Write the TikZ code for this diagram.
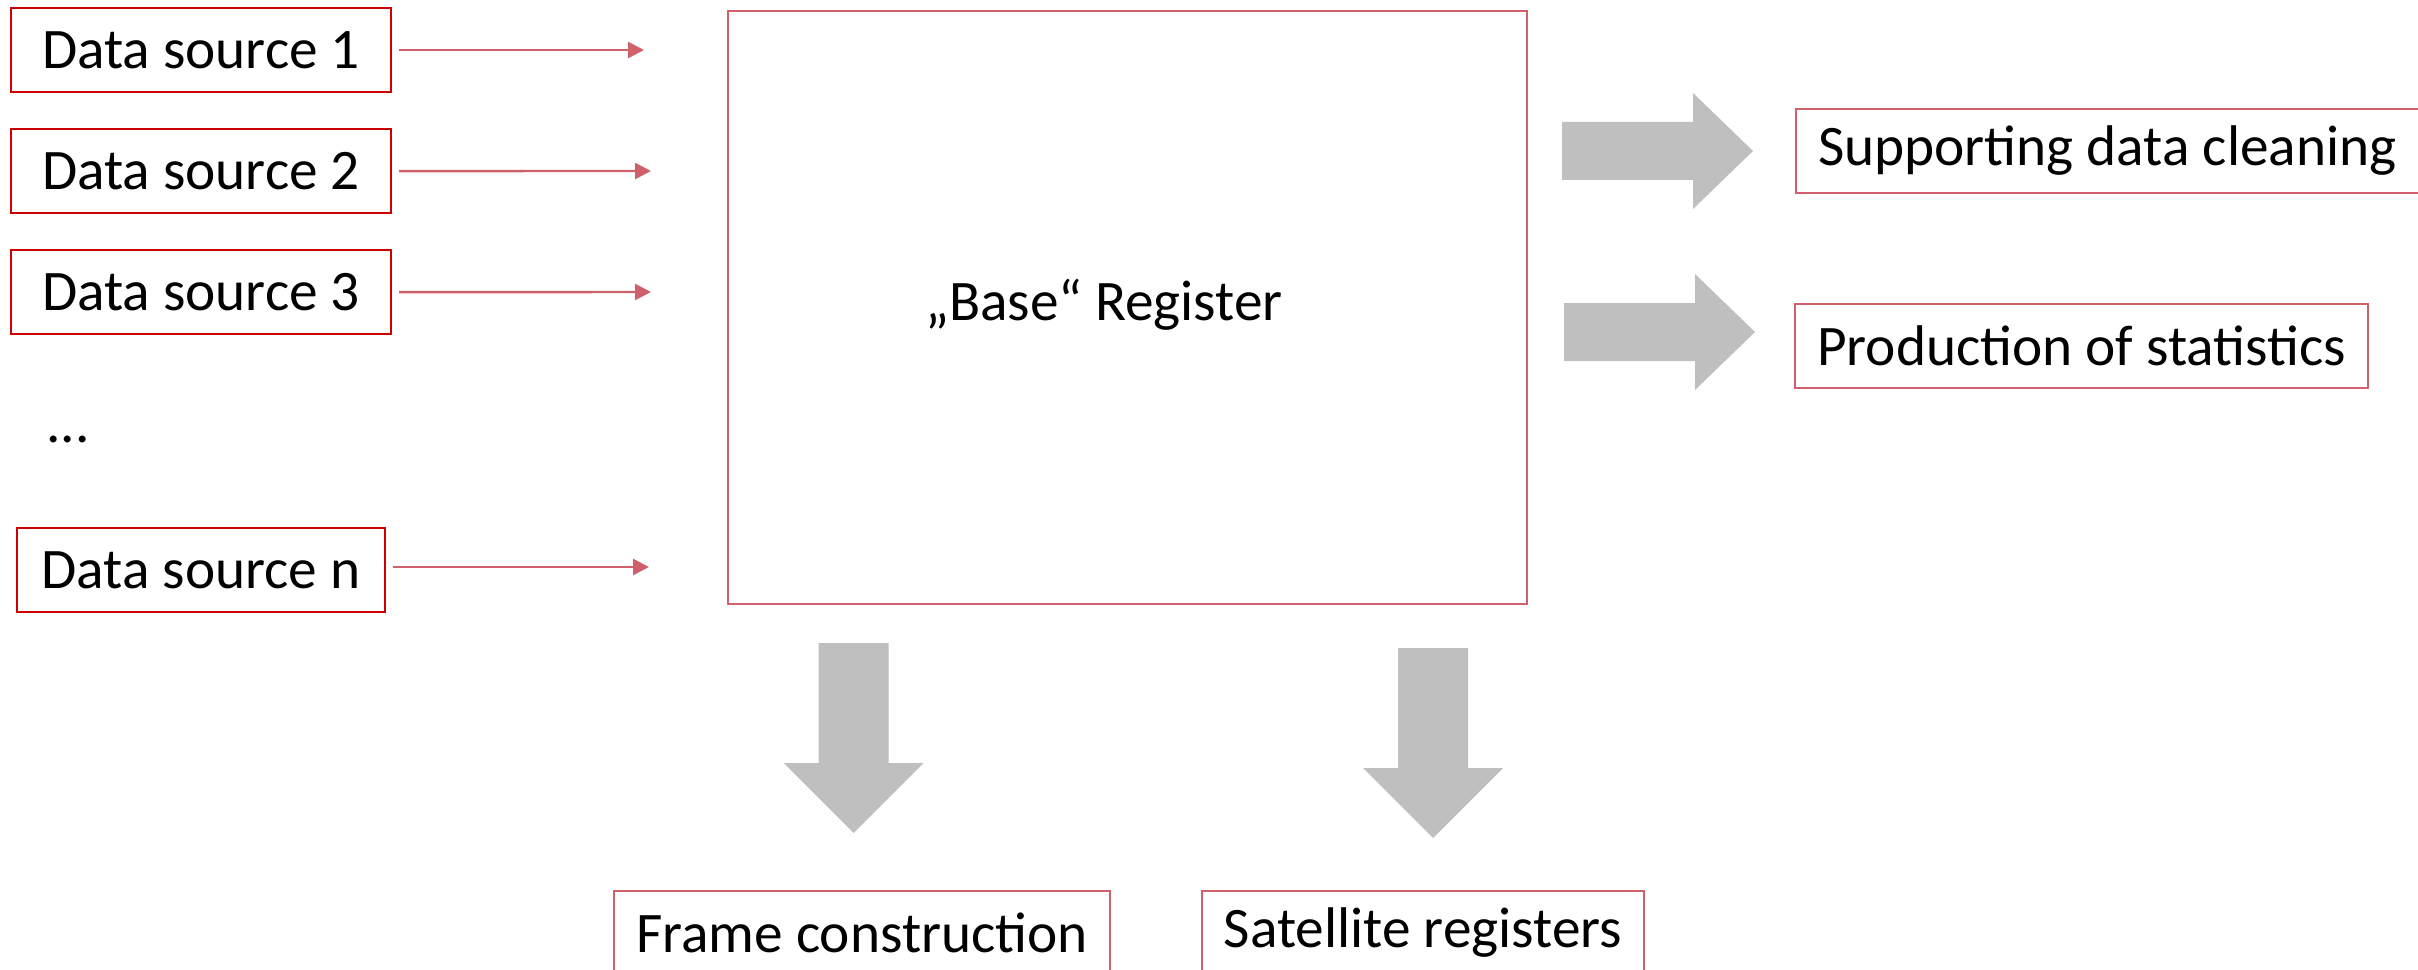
\documentclass[tikz,border=0pt]{standalone}
\usepackage{fontspec}
\setmainfont{Carlito}
\usepackage{xcolor}
\usepackage{tikz}
\usetikzlibrary{positioning,arrows.meta}

\definecolor{srcred}{HTML}{CC0000}
\definecolor{boxred}{HTML}{D0606A}
\definecolor{arrowgray}{HTML}{BFBFBF}

\tikzset{
  srcbox/.style={draw=srcred,line width=0.6pt,minimum height=0.84cm,minimum width=3.8cm},
  outbox/.style={draw=boxred,line width=0.6pt,minimum height=0.84cm,inner xsep=0.22cm},
  feed/.style={draw=boxred,line width=0.7pt,shorten <=2pt,-{Triangle[length=4.5pt,width=4.5pt]}},
  blockarrow/.style={fill=arrowgray}
}

\begin{document}
\begin{tikzpicture}[x=0.01cm,y=-0.01cm,every node/.style={font=\fontsize{16.3}{19}\selectfont,on grid,node distance=1.21cm}]
    \useasboundingbox (0,0) rectangle (2418,970);
    % sources
    \node[srcbox] (ds1) at (201,50) {Data source 1};
    \node[srcbox,below of=ds1] (ds2) {Data source 2};
    \node[srcbox,below of=ds2] (ds3) {Data source 3};
    \node[anchor=base west] (dots) at (34,442) {...};
    \node[srcbox,minimum width=3.68cm,below of=ds3,node distance=2.78cm] (dsn) {Data source n};
    \coordinate (in1) at (644,50);
    \coordinate (in2) at (651,171);
    \coordinate (in3) at (651,292);
    \coordinate (inn) at (649,567);
    \draw[feed] (ds1) -- (in1);
    \draw[feed] (ds2) -- (in2);
    \draw[feed] (ds3) -- (in3);
    \draw[feed] (dsn.east |- inn) -- (inn);
    % register
    \node[draw=boxred,line width=0.5pt,minimum width=7.99cm,minimum height=5.93cm] (base) at (1127.5,307.5) {};
    \node (baselbl) at (1104,305) {„Base“ Register};
    % outputs
    \node[outbox,anchor=west] (clean) at (1795,151) {Supporting data cleaning};
    \node[outbox,anchor=west] (stats) at (1794,346) {Production of statistics};
    \node[outbox] (frame) at (862,933) {Frame construction};
    \node[outbox] (sat) at (1423,933) {Satellite registers};
    \foreach \x/\y in {1562/151,1564/332}
      \fill[blockarrow] (\x,\y) ++(0,-29) -- ++(131,0) -- ++(0,-29) -- ++(60,58) -- ++(-60,58) -- ++(0,-29) -- ++(-131,0) -- cycle;
    \foreach \x/\y in {853.5/643,1433/648}
      \fill[blockarrow] (\x,\y) ++(-35,0) -- ++(70,0) -- ++(0,120) -- ++(35,0) -- ++(-70,70) -- ++(-70,-70) -- ++(35,0) -- cycle;
  \end{tikzpicture}
\end{document}
